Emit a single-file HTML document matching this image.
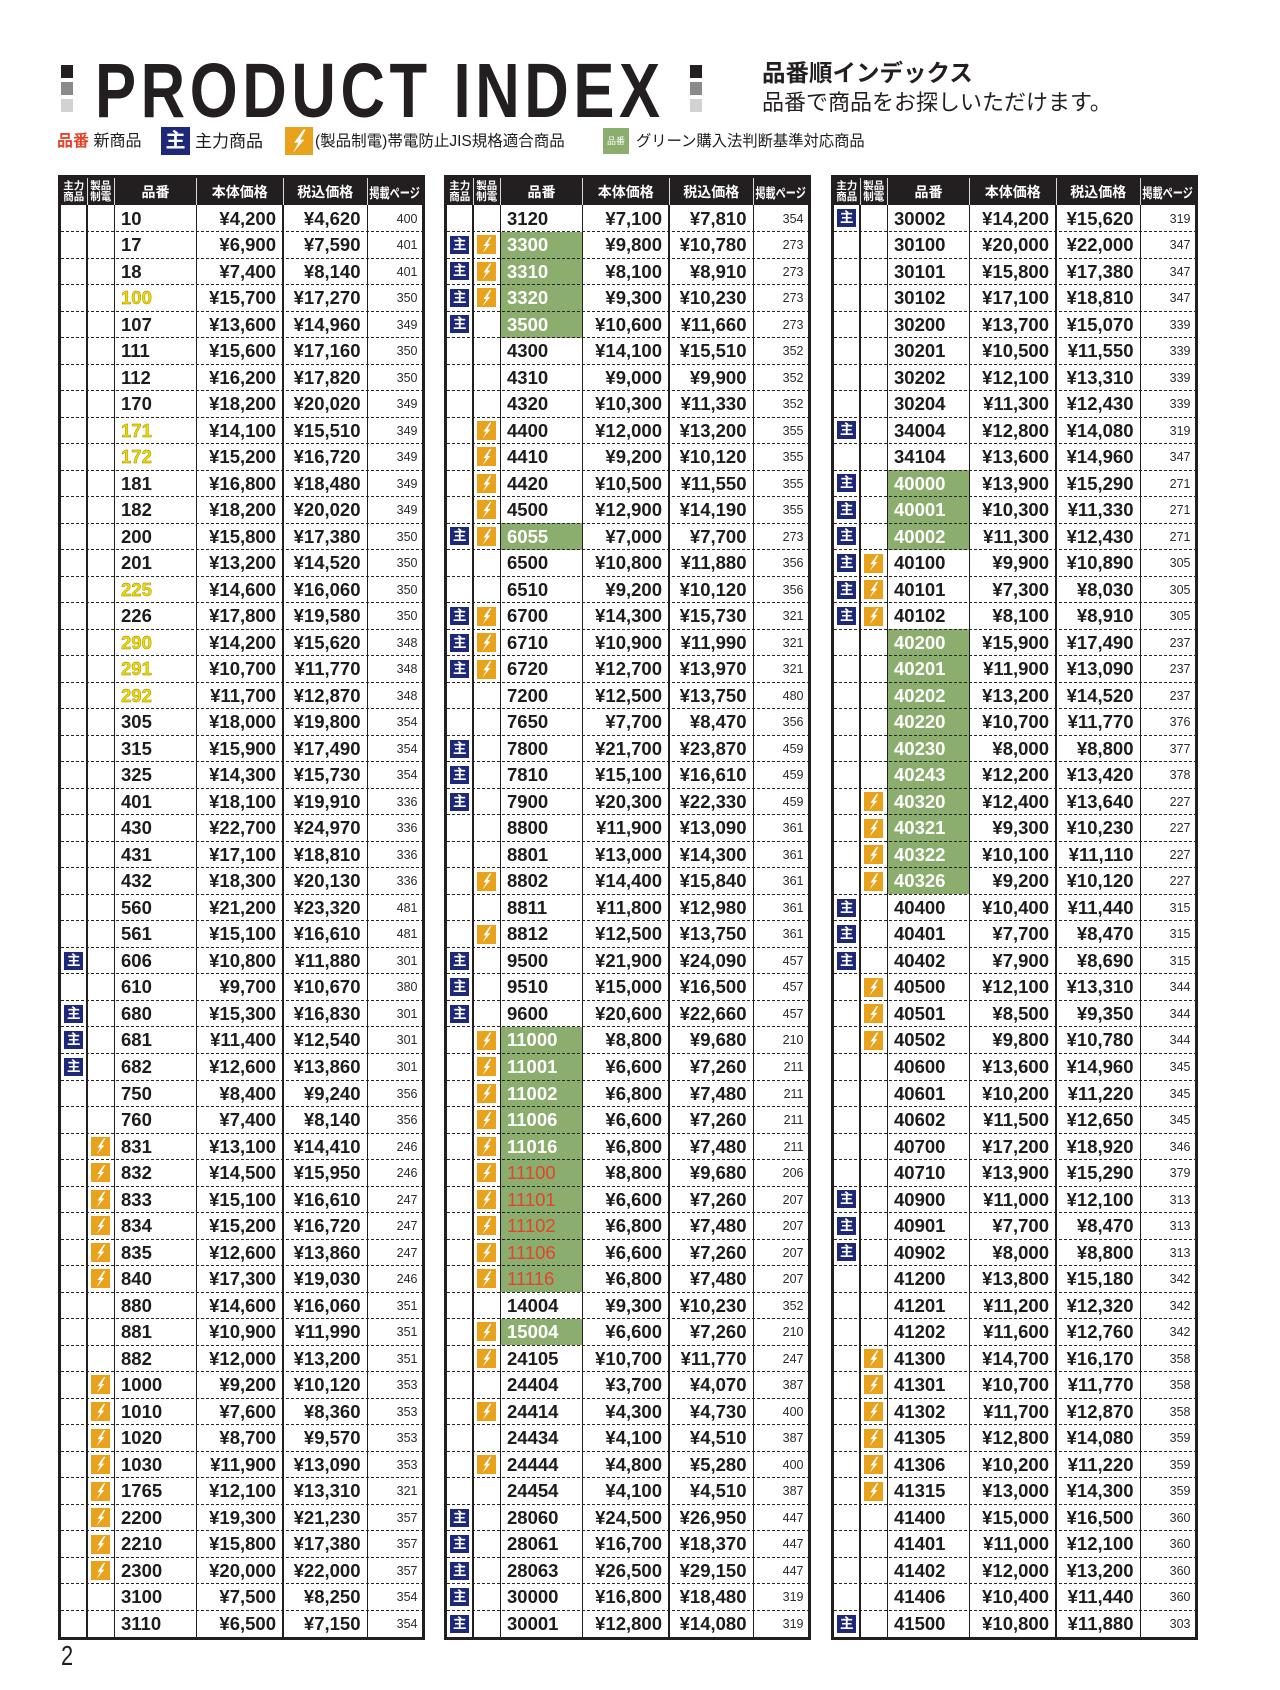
<!DOCTYPE html>
<html lang="ja"><head><meta charset="utf-8"><title>PRODUCT INDEX</title>
<style>
html,body{margin:0;padding:0;background:#fff}
body{width:1280px;height:1690px;position:relative;overflow:hidden;font-family:"Liberation Sans","Noto Sans CJK JP",sans-serif;color:#1e1b1c}
.a{position:absolute;white-space:nowrap}
.sq{position:absolute;width:12px;height:13px}
.title{position:absolute;left:94.5px;top:52.8px;font:bold 77px/77px "Liberation Sans",sans-serif;letter-spacing:5.75px;transform:scaleX(.8);transform-origin:0 0;white-space:nowrap;color:#231f20}
.lg{position:absolute;top:132px;line-height:20px;white-space:nowrap}
.t{position:absolute;top:175px;width:367px;height:1465px;border:3px solid #231f20;box-sizing:border-box;background:#fff}
.h{height:27px;background:#231f20;color:#fff;position:relative}
.h span{position:absolute;top:0;height:27px;display:flex;align-items:center;justify-content:center;font-weight:bold;font-size:14px;white-space:nowrap}
.h .h1{left:0;width:26.5px;font-size:10.5px;line-height:11px;text-align:center}
.h .h2{left:26.5px;width:27.5px;font-size:10.5px;line-height:11px;text-align:center}
.h .h3{left:54px;width:82px}
.h .h4{left:136px;width:86.5px}
.h .h5{left:222.5px;width:84.5px}
.h .h6{left:307px;width:54px}
.h .h6 em{font-style:normal;display:inline-block;font-size:13.5px;transform:scaleX(.75)}
.hv{position:absolute;top:0;height:27px;width:1px;background:#d8d8d8;z-index:3}
.v{position:absolute;top:27px;bottom:0;width:1.5px;background:#231f20;z-index:3}
.r{display:flex;height:26.52px;position:relative}
.r::after{content:"";position:absolute;left:0;right:0;bottom:-0.5px;height:1px;background:repeating-linear-gradient(90deg,#262626 0 3px,transparent 3px 5px);z-index:2}
.r:last-child::after{display:none}
.r>span{display:block;flex:none;height:100%;box-sizing:border-box;white-space:nowrap;line-height:26.52px;padding-top:0.5px;font-size:18.5px;font-weight:bold}
.r>span:nth-child(1){width:26.5px;padding-top:0}
.r>span:nth-child(2){width:27.5px;padding-top:0}
.r>span:nth-child(3){width:82px;padding-left:6.5px}
.r>span:nth-child(4){width:86.5px;text-align:right;padding-right:7px}
.r>span:nth-child(5){width:84.5px;text-align:right;padding-right:7px}
.r>span:nth-child(6){width:54px;text-align:right;padding-right:4px;font-size:12.5px;font-weight:normal;color:#2a2a2a}
.r>span.g{background:#8bad6d;color:#fff}
.r>span.rd{color:#e4432e;font-weight:normal}
.r>span.y{color:#f1d900;-webkit-text-stroke:0.4px #8c7f00}
.m{display:block;width:19px;height:18px;margin:4.3px auto 0;background:#1d2878;color:#fff;font:bold 13.5px/18px "Liberation Sans","Noto Sans CJK JP",sans-serif;text-align:center;font-style:normal}
.j{display:block;width:19px;height:19px;margin:3.8px auto 0;background:#e9a21b;position:relative;font-style:normal}
.j::after,.lgj::after{content:"";position:absolute;left:0;top:0;width:100%;height:100%;background:#fff;clip-path:polygon(66% 9%,33% 56%,48% 56%,28% 93%,69% 45%,54% 45%,74% 9%)}
.lgm{position:absolute;left:161px;top:127px;width:29px;height:28px;background:#1d2878;color:#fff;font:bold 20px/28px "Liberation Sans","Noto Sans CJK JP",sans-serif;text-align:center}
.lgj{position:absolute;left:285px;top:127px;width:28px;height:28px;background:#e9a21b}
.lgg{position:absolute;left:603px;top:128px;width:26px;height:26px;background:#8bad6d;color:#fff;font-size:9px;line-height:26px;text-align:center}
.pn{position:absolute;left:61px;top:1642px;font:28px/28px "Liberation Sans",sans-serif;transform:scaleX(.78);transform-origin:0 0;color:#231f20}
</style></head><body>

<div class="sq" style="left:61px;top:65px;background:#231f20"></div>
<div class="sq" style="left:61px;top:82px;background:#8a8a8a"></div>
<div class="sq" style="left:61px;top:99px;background:#d2d2d2"></div>
<div class="title">PRODUCT INDEX</div>
<div class="sq" style="left:690px;top:65px;background:#231f20"></div>
<div class="sq" style="left:690px;top:82px;background:#8a8a8a"></div>
<div class="sq" style="left:690px;top:99px;background:#d2d2d2"></div>

<div class="a" style="left:762px;top:61px;font-size:23.5px;line-height:24px;font-weight:bold;color:#231f20">品番順インデックス</div>
<div class="a" style="left:762px;top:91px;font-size:22px;line-height:23px;color:#231f20">品番で商品をお探しいただけます。</div>

<div class="lg" style="left:57px;font-size:16px;font-weight:bold;color:#e2452b">品番</div>
<div class="lg" style="left:93.5px;font-size:16px">新商品</div>
<div class="lgm">主</div>
<div class="lg" style="left:195px;font-size:17px">主力商品</div>
<div class="lgj"></div>
<div class="lg" style="left:315px;font-size:15.5px">(製品制電)帯電防止JIS規格適合商品</div>
<div class="lgg">品番</div>
<div class="lg" style="left:636px;font-size:15.3px">グリーン購入法判断基準対応商品</div>

<!-- TABLE 1 -->
<div class="t" style="left:57.5px">
<div class="h"><span class="h1">主力<br>商品</span><span class="h2">製品<br>制電</span><span class="h3">品番</span><span class="h4">本体価格</span><span class="h5">税込価格</span><span class="h6"><em>掲載ページ</em></span></div>
<div class="hv" style="left:26px"></div><div class="hv" style="left:53.5px"></div><div class="hv" style="left:135.5px"></div><div class="hv" style="left:222px"></div><div class="hv" style="left:306.5px"></div>
<div class="v" style="left:25.9px;width:1.2px"></div><div class="v" style="left:53.25px"></div><div class="v" style="left:135.25px"></div><div class="v" style="left:221.75px"></div><div class="v" style="left:306.25px"></div>
<div class="r"><span></span><span></span><span>10</span><span>¥4,200</span><span>¥4,620</span><span>400</span></div>
<div class="r"><span></span><span></span><span>17</span><span>¥6,900</span><span>¥7,590</span><span>401</span></div>
<div class="r"><span></span><span></span><span>18</span><span>¥7,400</span><span>¥8,140</span><span>401</span></div>
<div class="r"><span></span><span></span><span class="y">100</span><span>¥15,700</span><span>¥17,270</span><span>350</span></div>
<div class="r"><span></span><span></span><span>107</span><span>¥13,600</span><span>¥14,960</span><span>349</span></div>
<div class="r"><span></span><span></span><span>111</span><span>¥15,600</span><span>¥17,160</span><span>350</span></div>
<div class="r"><span></span><span></span><span>112</span><span>¥16,200</span><span>¥17,820</span><span>350</span></div>
<div class="r"><span></span><span></span><span>170</span><span>¥18,200</span><span>¥20,020</span><span>349</span></div>
<div class="r"><span></span><span></span><span class="y">171</span><span>¥14,100</span><span>¥15,510</span><span>349</span></div>
<div class="r"><span></span><span></span><span class="y">172</span><span>¥15,200</span><span>¥16,720</span><span>349</span></div>
<div class="r"><span></span><span></span><span>181</span><span>¥16,800</span><span>¥18,480</span><span>349</span></div>
<div class="r"><span></span><span></span><span>182</span><span>¥18,200</span><span>¥20,020</span><span>349</span></div>
<div class="r"><span></span><span></span><span>200</span><span>¥15,800</span><span>¥17,380</span><span>350</span></div>
<div class="r"><span></span><span></span><span>201</span><span>¥13,200</span><span>¥14,520</span><span>350</span></div>
<div class="r"><span></span><span></span><span class="y">225</span><span>¥14,600</span><span>¥16,060</span><span>350</span></div>
<div class="r"><span></span><span></span><span>226</span><span>¥17,800</span><span>¥19,580</span><span>350</span></div>
<div class="r"><span></span><span></span><span class="y">290</span><span>¥14,200</span><span>¥15,620</span><span>348</span></div>
<div class="r"><span></span><span></span><span class="y">291</span><span>¥10,700</span><span>¥11,770</span><span>348</span></div>
<div class="r"><span></span><span></span><span class="y">292</span><span>¥11,700</span><span>¥12,870</span><span>348</span></div>
<div class="r"><span></span><span></span><span>305</span><span>¥18,000</span><span>¥19,800</span><span>354</span></div>
<div class="r"><span></span><span></span><span>315</span><span>¥15,900</span><span>¥17,490</span><span>354</span></div>
<div class="r"><span></span><span></span><span>325</span><span>¥14,300</span><span>¥15,730</span><span>354</span></div>
<div class="r"><span></span><span></span><span>401</span><span>¥18,100</span><span>¥19,910</span><span>336</span></div>
<div class="r"><span></span><span></span><span>430</span><span>¥22,700</span><span>¥24,970</span><span>336</span></div>
<div class="r"><span></span><span></span><span>431</span><span>¥17,100</span><span>¥18,810</span><span>336</span></div>
<div class="r"><span></span><span></span><span>432</span><span>¥18,300</span><span>¥20,130</span><span>336</span></div>
<div class="r"><span></span><span></span><span>560</span><span>¥21,200</span><span>¥23,320</span><span>481</span></div>
<div class="r"><span></span><span></span><span>561</span><span>¥15,100</span><span>¥16,610</span><span>481</span></div>
<div class="r"><span><i class="m">主</i></span><span></span><span>606</span><span>¥10,800</span><span>¥11,880</span><span>301</span></div>
<div class="r"><span></span><span></span><span>610</span><span>¥9,700</span><span>¥10,670</span><span>380</span></div>
<div class="r"><span><i class="m">主</i></span><span></span><span>680</span><span>¥15,300</span><span>¥16,830</span><span>301</span></div>
<div class="r"><span><i class="m">主</i></span><span></span><span>681</span><span>¥11,400</span><span>¥12,540</span><span>301</span></div>
<div class="r"><span><i class="m">主</i></span><span></span><span>682</span><span>¥12,600</span><span>¥13,860</span><span>301</span></div>
<div class="r"><span></span><span></span><span>750</span><span>¥8,400</span><span>¥9,240</span><span>356</span></div>
<div class="r"><span></span><span></span><span>760</span><span>¥7,400</span><span>¥8,140</span><span>356</span></div>
<div class="r"><span></span><span><i class="j"></i></span><span>831</span><span>¥13,100</span><span>¥14,410</span><span>246</span></div>
<div class="r"><span></span><span><i class="j"></i></span><span>832</span><span>¥14,500</span><span>¥15,950</span><span>246</span></div>
<div class="r"><span></span><span><i class="j"></i></span><span>833</span><span>¥15,100</span><span>¥16,610</span><span>247</span></div>
<div class="r"><span></span><span><i class="j"></i></span><span>834</span><span>¥15,200</span><span>¥16,720</span><span>247</span></div>
<div class="r"><span></span><span><i class="j"></i></span><span>835</span><span>¥12,600</span><span>¥13,860</span><span>247</span></div>
<div class="r"><span></span><span><i class="j"></i></span><span>840</span><span>¥17,300</span><span>¥19,030</span><span>246</span></div>
<div class="r"><span></span><span></span><span>880</span><span>¥14,600</span><span>¥16,060</span><span>351</span></div>
<div class="r"><span></span><span></span><span>881</span><span>¥10,900</span><span>¥11,990</span><span>351</span></div>
<div class="r"><span></span><span></span><span>882</span><span>¥12,000</span><span>¥13,200</span><span>351</span></div>
<div class="r"><span></span><span><i class="j"></i></span><span>1000</span><span>¥9,200</span><span>¥10,120</span><span>353</span></div>
<div class="r"><span></span><span><i class="j"></i></span><span>1010</span><span>¥7,600</span><span>¥8,360</span><span>353</span></div>
<div class="r"><span></span><span><i class="j"></i></span><span>1020</span><span>¥8,700</span><span>¥9,570</span><span>353</span></div>
<div class="r"><span></span><span><i class="j"></i></span><span>1030</span><span>¥11,900</span><span>¥13,090</span><span>353</span></div>
<div class="r"><span></span><span><i class="j"></i></span><span>1765</span><span>¥12,100</span><span>¥13,310</span><span>321</span></div>
<div class="r"><span></span><span><i class="j"></i></span><span>2200</span><span>¥19,300</span><span>¥21,230</span><span>357</span></div>
<div class="r"><span></span><span><i class="j"></i></span><span>2210</span><span>¥15,800</span><span>¥17,380</span><span>357</span></div>
<div class="r"><span></span><span><i class="j"></i></span><span>2300</span><span>¥20,000</span><span>¥22,000</span><span>357</span></div>
<div class="r"><span></span><span></span><span>3100</span><span>¥7,500</span><span>¥8,250</span><span>354</span></div>
<div class="r"><span></span><span></span><span>3110</span><span>¥6,500</span><span>¥7,150</span><span>354</span></div>
</div>

<!-- TABLE 2 -->
<div class="t" style="left:443.5px">
<div class="h"><span class="h1">主力<br>商品</span><span class="h2">製品<br>制電</span><span class="h3">品番</span><span class="h4">本体価格</span><span class="h5">税込価格</span><span class="h6"><em>掲載ページ</em></span></div>
<div class="hv" style="left:26px"></div><div class="hv" style="left:53.5px"></div><div class="hv" style="left:135.5px"></div><div class="hv" style="left:222px"></div><div class="hv" style="left:306.5px"></div>
<div class="v" style="left:25.9px;width:1.2px"></div><div class="v" style="left:53.25px"></div><div class="v" style="left:135.25px"></div><div class="v" style="left:221.75px"></div><div class="v" style="left:306.25px"></div>
<div class="r"><span></span><span></span><span>3120</span><span>¥7,100</span><span>¥7,810</span><span>354</span></div>
<div class="r"><span><i class="m">主</i></span><span><i class="j"></i></span><span class="g">3300</span><span>¥9,800</span><span>¥10,780</span><span>273</span></div>
<div class="r"><span><i class="m">主</i></span><span><i class="j"></i></span><span class="g">3310</span><span>¥8,100</span><span>¥8,910</span><span>273</span></div>
<div class="r"><span><i class="m">主</i></span><span><i class="j"></i></span><span class="g">3320</span><span>¥9,300</span><span>¥10,230</span><span>273</span></div>
<div class="r"><span><i class="m">主</i></span><span></span><span class="g">3500</span><span>¥10,600</span><span>¥11,660</span><span>273</span></div>
<div class="r"><span></span><span></span><span>4300</span><span>¥14,100</span><span>¥15,510</span><span>352</span></div>
<div class="r"><span></span><span></span><span>4310</span><span>¥9,000</span><span>¥9,900</span><span>352</span></div>
<div class="r"><span></span><span></span><span>4320</span><span>¥10,300</span><span>¥11,330</span><span>352</span></div>
<div class="r"><span></span><span><i class="j"></i></span><span>4400</span><span>¥12,000</span><span>¥13,200</span><span>355</span></div>
<div class="r"><span></span><span><i class="j"></i></span><span>4410</span><span>¥9,200</span><span>¥10,120</span><span>355</span></div>
<div class="r"><span></span><span><i class="j"></i></span><span>4420</span><span>¥10,500</span><span>¥11,550</span><span>355</span></div>
<div class="r"><span></span><span><i class="j"></i></span><span>4500</span><span>¥12,900</span><span>¥14,190</span><span>355</span></div>
<div class="r"><span><i class="m">主</i></span><span><i class="j"></i></span><span class="g">6055</span><span>¥7,000</span><span>¥7,700</span><span>273</span></div>
<div class="r"><span></span><span></span><span>6500</span><span>¥10,800</span><span>¥11,880</span><span>356</span></div>
<div class="r"><span></span><span></span><span>6510</span><span>¥9,200</span><span>¥10,120</span><span>356</span></div>
<div class="r"><span><i class="m">主</i></span><span><i class="j"></i></span><span>6700</span><span>¥14,300</span><span>¥15,730</span><span>321</span></div>
<div class="r"><span><i class="m">主</i></span><span><i class="j"></i></span><span>6710</span><span>¥10,900</span><span>¥11,990</span><span>321</span></div>
<div class="r"><span><i class="m">主</i></span><span><i class="j"></i></span><span>6720</span><span>¥12,700</span><span>¥13,970</span><span>321</span></div>
<div class="r"><span></span><span></span><span>7200</span><span>¥12,500</span><span>¥13,750</span><span>480</span></div>
<div class="r"><span></span><span></span><span>7650</span><span>¥7,700</span><span>¥8,470</span><span>356</span></div>
<div class="r"><span><i class="m">主</i></span><span></span><span>7800</span><span>¥21,700</span><span>¥23,870</span><span>459</span></div>
<div class="r"><span><i class="m">主</i></span><span></span><span>7810</span><span>¥15,100</span><span>¥16,610</span><span>459</span></div>
<div class="r"><span><i class="m">主</i></span><span></span><span>7900</span><span>¥20,300</span><span>¥22,330</span><span>459</span></div>
<div class="r"><span></span><span></span><span>8800</span><span>¥11,900</span><span>¥13,090</span><span>361</span></div>
<div class="r"><span></span><span></span><span>8801</span><span>¥13,000</span><span>¥14,300</span><span>361</span></div>
<div class="r"><span></span><span><i class="j"></i></span><span>8802</span><span>¥14,400</span><span>¥15,840</span><span>361</span></div>
<div class="r"><span></span><span></span><span>8811</span><span>¥11,800</span><span>¥12,980</span><span>361</span></div>
<div class="r"><span></span><span><i class="j"></i></span><span>8812</span><span>¥12,500</span><span>¥13,750</span><span>361</span></div>
<div class="r"><span><i class="m">主</i></span><span></span><span>9500</span><span>¥21,900</span><span>¥24,090</span><span>457</span></div>
<div class="r"><span><i class="m">主</i></span><span></span><span>9510</span><span>¥15,000</span><span>¥16,500</span><span>457</span></div>
<div class="r"><span><i class="m">主</i></span><span></span><span>9600</span><span>¥20,600</span><span>¥22,660</span><span>457</span></div>
<div class="r"><span></span><span><i class="j"></i></span><span class="g">11000</span><span>¥8,800</span><span>¥9,680</span><span>210</span></div>
<div class="r"><span></span><span><i class="j"></i></span><span class="g">11001</span><span>¥6,600</span><span>¥7,260</span><span>211</span></div>
<div class="r"><span></span><span><i class="j"></i></span><span class="g">11002</span><span>¥6,800</span><span>¥7,480</span><span>211</span></div>
<div class="r"><span></span><span><i class="j"></i></span><span class="g">11006</span><span>¥6,600</span><span>¥7,260</span><span>211</span></div>
<div class="r"><span></span><span><i class="j"></i></span><span class="g">11016</span><span>¥6,800</span><span>¥7,480</span><span>211</span></div>
<div class="r"><span></span><span><i class="j"></i></span><span class="g rd">11100</span><span>¥8,800</span><span>¥9,680</span><span>206</span></div>
<div class="r"><span></span><span><i class="j"></i></span><span class="g rd">11101</span><span>¥6,600</span><span>¥7,260</span><span>207</span></div>
<div class="r"><span></span><span><i class="j"></i></span><span class="g rd">11102</span><span>¥6,800</span><span>¥7,480</span><span>207</span></div>
<div class="r"><span></span><span><i class="j"></i></span><span class="g rd">11106</span><span>¥6,600</span><span>¥7,260</span><span>207</span></div>
<div class="r"><span></span><span><i class="j"></i></span><span class="g rd">11116</span><span>¥6,800</span><span>¥7,480</span><span>207</span></div>
<div class="r"><span></span><span></span><span>14004</span><span>¥9,300</span><span>¥10,230</span><span>352</span></div>
<div class="r"><span></span><span><i class="j"></i></span><span class="g">15004</span><span>¥6,600</span><span>¥7,260</span><span>210</span></div>
<div class="r"><span></span><span><i class="j"></i></span><span>24105</span><span>¥10,700</span><span>¥11,770</span><span>247</span></div>
<div class="r"><span></span><span></span><span>24404</span><span>¥3,700</span><span>¥4,070</span><span>387</span></div>
<div class="r"><span></span><span><i class="j"></i></span><span>24414</span><span>¥4,300</span><span>¥4,730</span><span>400</span></div>
<div class="r"><span></span><span></span><span>24434</span><span>¥4,100</span><span>¥4,510</span><span>387</span></div>
<div class="r"><span></span><span><i class="j"></i></span><span>24444</span><span>¥4,800</span><span>¥5,280</span><span>400</span></div>
<div class="r"><span></span><span></span><span>24454</span><span>¥4,100</span><span>¥4,510</span><span>387</span></div>
<div class="r"><span><i class="m">主</i></span><span></span><span>28060</span><span>¥24,500</span><span>¥26,950</span><span>447</span></div>
<div class="r"><span><i class="m">主</i></span><span></span><span>28061</span><span>¥16,700</span><span>¥18,370</span><span>447</span></div>
<div class="r"><span><i class="m">主</i></span><span></span><span>28063</span><span>¥26,500</span><span>¥29,150</span><span>447</span></div>
<div class="r"><span><i class="m">主</i></span><span></span><span>30000</span><span>¥16,800</span><span>¥18,480</span><span>319</span></div>
<div class="r"><span><i class="m">主</i></span><span></span><span>30001</span><span>¥12,800</span><span>¥14,080</span><span>319</span></div>
</div>

<!-- TABLE 3 -->
<div class="t" style="left:830.5px">
<div class="h"><span class="h1">主力<br>商品</span><span class="h2">製品<br>制電</span><span class="h3">品番</span><span class="h4">本体価格</span><span class="h5">税込価格</span><span class="h6"><em>掲載ページ</em></span></div>
<div class="hv" style="left:26px"></div><div class="hv" style="left:53.5px"></div><div class="hv" style="left:135.5px"></div><div class="hv" style="left:222px"></div><div class="hv" style="left:306.5px"></div>
<div class="v" style="left:25.9px;width:1.2px"></div><div class="v" style="left:53.25px"></div><div class="v" style="left:135.25px"></div><div class="v" style="left:221.75px"></div><div class="v" style="left:306.25px"></div>
<div class="r"><span><i class="m">主</i></span><span></span><span>30002</span><span>¥14,200</span><span>¥15,620</span><span>319</span></div>
<div class="r"><span></span><span></span><span>30100</span><span>¥20,000</span><span>¥22,000</span><span>347</span></div>
<div class="r"><span></span><span></span><span>30101</span><span>¥15,800</span><span>¥17,380</span><span>347</span></div>
<div class="r"><span></span><span></span><span>30102</span><span>¥17,100</span><span>¥18,810</span><span>347</span></div>
<div class="r"><span></span><span></span><span>30200</span><span>¥13,700</span><span>¥15,070</span><span>339</span></div>
<div class="r"><span></span><span></span><span>30201</span><span>¥10,500</span><span>¥11,550</span><span>339</span></div>
<div class="r"><span></span><span></span><span>30202</span><span>¥12,100</span><span>¥13,310</span><span>339</span></div>
<div class="r"><span></span><span></span><span>30204</span><span>¥11,300</span><span>¥12,430</span><span>339</span></div>
<div class="r"><span><i class="m">主</i></span><span></span><span>34004</span><span>¥12,800</span><span>¥14,080</span><span>319</span></div>
<div class="r"><span></span><span></span><span>34104</span><span>¥13,600</span><span>¥14,960</span><span>347</span></div>
<div class="r"><span><i class="m">主</i></span><span></span><span class="g">40000</span><span>¥13,900</span><span>¥15,290</span><span>271</span></div>
<div class="r"><span><i class="m">主</i></span><span></span><span class="g">40001</span><span>¥10,300</span><span>¥11,330</span><span>271</span></div>
<div class="r"><span><i class="m">主</i></span><span></span><span class="g">40002</span><span>¥11,300</span><span>¥12,430</span><span>271</span></div>
<div class="r"><span><i class="m">主</i></span><span><i class="j"></i></span><span>40100</span><span>¥9,900</span><span>¥10,890</span><span>305</span></div>
<div class="r"><span><i class="m">主</i></span><span><i class="j"></i></span><span>40101</span><span>¥7,300</span><span>¥8,030</span><span>305</span></div>
<div class="r"><span><i class="m">主</i></span><span><i class="j"></i></span><span>40102</span><span>¥8,100</span><span>¥8,910</span><span>305</span></div>
<div class="r"><span></span><span></span><span class="g">40200</span><span>¥15,900</span><span>¥17,490</span><span>237</span></div>
<div class="r"><span></span><span></span><span class="g">40201</span><span>¥11,900</span><span>¥13,090</span><span>237</span></div>
<div class="r"><span></span><span></span><span class="g">40202</span><span>¥13,200</span><span>¥14,520</span><span>237</span></div>
<div class="r"><span></span><span></span><span class="g">40220</span><span>¥10,700</span><span>¥11,770</span><span>376</span></div>
<div class="r"><span></span><span></span><span class="g">40230</span><span>¥8,000</span><span>¥8,800</span><span>377</span></div>
<div class="r"><span></span><span></span><span class="g">40243</span><span>¥12,200</span><span>¥13,420</span><span>378</span></div>
<div class="r"><span></span><span><i class="j"></i></span><span class="g">40320</span><span>¥12,400</span><span>¥13,640</span><span>227</span></div>
<div class="r"><span></span><span><i class="j"></i></span><span class="g">40321</span><span>¥9,300</span><span>¥10,230</span><span>227</span></div>
<div class="r"><span></span><span><i class="j"></i></span><span class="g">40322</span><span>¥10,100</span><span>¥11,110</span><span>227</span></div>
<div class="r"><span></span><span><i class="j"></i></span><span class="g">40326</span><span>¥9,200</span><span>¥10,120</span><span>227</span></div>
<div class="r"><span><i class="m">主</i></span><span></span><span>40400</span><span>¥10,400</span><span>¥11,440</span><span>315</span></div>
<div class="r"><span><i class="m">主</i></span><span></span><span>40401</span><span>¥7,700</span><span>¥8,470</span><span>315</span></div>
<div class="r"><span><i class="m">主</i></span><span></span><span>40402</span><span>¥7,900</span><span>¥8,690</span><span>315</span></div>
<div class="r"><span></span><span><i class="j"></i></span><span>40500</span><span>¥12,100</span><span>¥13,310</span><span>344</span></div>
<div class="r"><span></span><span><i class="j"></i></span><span>40501</span><span>¥8,500</span><span>¥9,350</span><span>344</span></div>
<div class="r"><span></span><span><i class="j"></i></span><span>40502</span><span>¥9,800</span><span>¥10,780</span><span>344</span></div>
<div class="r"><span></span><span></span><span>40600</span><span>¥13,600</span><span>¥14,960</span><span>345</span></div>
<div class="r"><span></span><span></span><span>40601</span><span>¥10,200</span><span>¥11,220</span><span>345</span></div>
<div class="r"><span></span><span></span><span>40602</span><span>¥11,500</span><span>¥12,650</span><span>345</span></div>
<div class="r"><span></span><span></span><span>40700</span><span>¥17,200</span><span>¥18,920</span><span>346</span></div>
<div class="r"><span></span><span></span><span>40710</span><span>¥13,900</span><span>¥15,290</span><span>379</span></div>
<div class="r"><span><i class="m">主</i></span><span></span><span>40900</span><span>¥11,000</span><span>¥12,100</span><span>313</span></div>
<div class="r"><span><i class="m">主</i></span><span></span><span>40901</span><span>¥7,700</span><span>¥8,470</span><span>313</span></div>
<div class="r"><span><i class="m">主</i></span><span></span><span>40902</span><span>¥8,000</span><span>¥8,800</span><span>313</span></div>
<div class="r"><span></span><span></span><span>41200</span><span>¥13,800</span><span>¥15,180</span><span>342</span></div>
<div class="r"><span></span><span></span><span>41201</span><span>¥11,200</span><span>¥12,320</span><span>342</span></div>
<div class="r"><span></span><span></span><span>41202</span><span>¥11,600</span><span>¥12,760</span><span>342</span></div>
<div class="r"><span></span><span><i class="j"></i></span><span>41300</span><span>¥14,700</span><span>¥16,170</span><span>358</span></div>
<div class="r"><span></span><span><i class="j"></i></span><span>41301</span><span>¥10,700</span><span>¥11,770</span><span>358</span></div>
<div class="r"><span></span><span><i class="j"></i></span><span>41302</span><span>¥11,700</span><span>¥12,870</span><span>358</span></div>
<div class="r"><span></span><span><i class="j"></i></span><span>41305</span><span>¥12,800</span><span>¥14,080</span><span>359</span></div>
<div class="r"><span></span><span><i class="j"></i></span><span>41306</span><span>¥10,200</span><span>¥11,220</span><span>359</span></div>
<div class="r"><span></span><span><i class="j"></i></span><span>41315</span><span>¥13,000</span><span>¥14,300</span><span>359</span></div>
<div class="r"><span></span><span></span><span>41400</span><span>¥15,000</span><span>¥16,500</span><span>360</span></div>
<div class="r"><span></span><span></span><span>41401</span><span>¥11,000</span><span>¥12,100</span><span>360</span></div>
<div class="r"><span></span><span></span><span>41402</span><span>¥12,000</span><span>¥13,200</span><span>360</span></div>
<div class="r"><span></span><span></span><span>41406</span><span>¥10,400</span><span>¥11,440</span><span>360</span></div>
<div class="r"><span><i class="m">主</i></span><span></span><span>41500</span><span>¥10,800</span><span>¥11,880</span><span>303</span></div>
</div>

<div class="pn">2</div>
</body></html>
